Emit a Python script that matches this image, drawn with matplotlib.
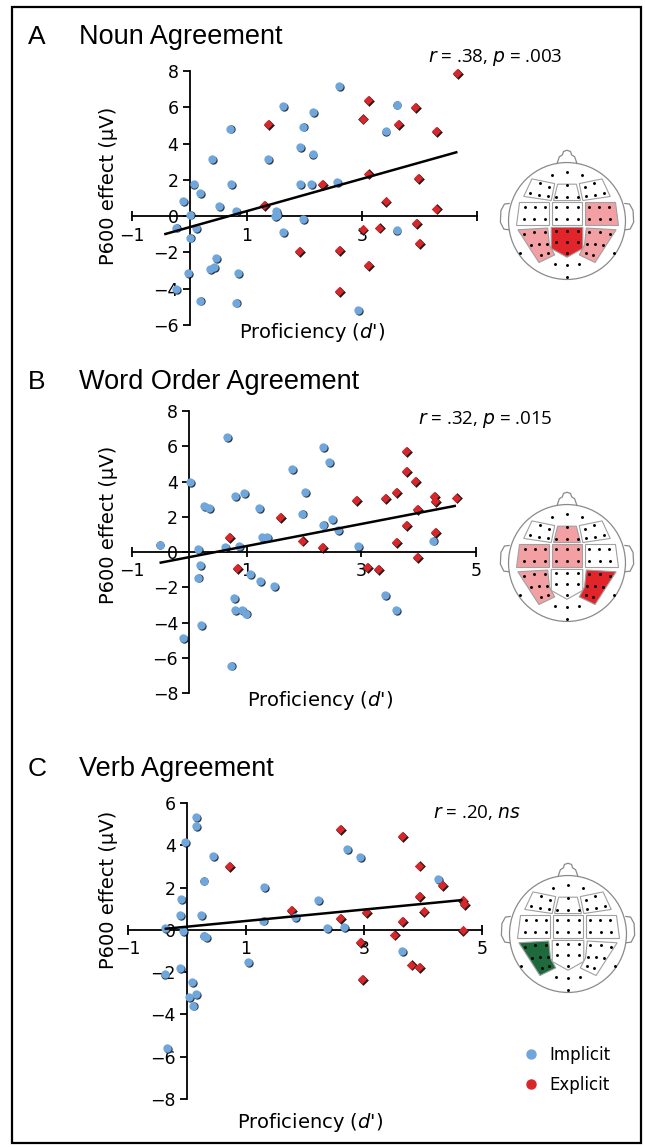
import matplotlib
matplotlib.use("Agg")
import matplotlib.pyplot as plt
import matplotlib.transforms as mtransforms
from matplotlib.patches import Polygon, Circle, Rectangle
from matplotlib.lines import Line2D
import numpy as np

plt.rcParams['font.family'] = ['DejaVu Sans']
plt.rcParams['mathtext.fontset'] = 'dejavusans'

# ---- data ----
# A: noun agreement
noun_imp_x = [-0.12, -0.24, 0.07, 0.18, 0.01, 0.11, 0.01, -0.03, -0.24, 0.19, 0.39, 0.52, 0.46, 0.36, 0.42,
              0.71, 0.73, 0.81, 0.85, 0.81, 1.36, 1.62, 1.50, 1.53, 1.48, 1.62, 1.92, 1.98, 2.15, 2.14,
              1.92, 2.12, 1.97, 2.60, 2.57, 2.93, 3.41, 3.60, 3.60]
noun_imp_y = [0.81, -0.63, 1.76, 1.27, 0.09, -0.67, -1.18, -3.13, -4.04, -4.65, 3.13, 0.54, -2.32, -2.90, -2.81,
              4.83, 1.79, 0.27, -3.13, -4.76, 3.13, 6.06, 0.27, 0.09, 0.0, -0.90, 3.80, 4.94, 5.74, 3.44,
              1.79, 1.79, -0.18, 7.19, 1.86, -5.20, 4.71, 6.15, -0.78]
noun_exp_x = [1.36, 1.30, 1.90, 2.31, 2.60, 2.60, 3.01, 3.11, 3.10, 3.01, 3.10, 3.30, 3.41, 3.62, 3.92,
              3.97, 3.94, 3.99, 4.28, 4.28, 4.66]
noun_exp_y = [5.07, 0.63, -1.94, 1.79, -1.86, -4.11, 5.38, 6.39, 2.35, -0.72, -2.71, -0.63, 0.85, 5.07, 6.03,
              2.12, -0.36, -1.50, 4.71, 0.42, 7.91]

# B: word order agreement
order_imp_x = [-0.52, -0.11, 0.02, 0.15, 0.19, 0.15, 0.26, 0.34, 0.20, 0.65, 0.63, 0.80, 0.95, 0.86, 0.78,
               0.79, 0.92, 0.99, 0.72, 1.06, 1.24, 1.47, 1.21, 1.27, 1.35, 1.79, 1.97, 2.02, 2.33, 2.43,
               2.33, 2.49, 2.60, 2.94, 3.42, 3.60, 4.25]
order_imp_y = [0.42, -4.89, 3.99, 0.15, -0.73, -1.45, 2.60, 2.51, -4.13, 6.51, 0.29, 3.20, 3.33, 0.33, -2.62,
               -3.27, -3.27, -3.49, -6.44, -1.25, -1.67, -1.95, 2.51, 0.87, 0.84, 4.69, 2.18, 3.38, 5.96, 5.09,
               1.56, 1.87, 1.27, 0.33, -2.44, -3.31, 0.65]
order_exp_x = [0.70, 0.84, 1.59, 1.97, 2.31, 2.91, 3.10, 3.29, 3.42, 3.60, 3.60, 3.78, 3.78, 3.94, 3.78,
               3.97, 3.97, 4.27, 4.29, 4.29, 4.65]
order_exp_y = [0.87, -0.91, 1.96, 0.65, 0.29, 2.93, -0.85, -0.95, 3.05, 3.38, 0.55, 5.75, 4.60, 4.05, 1.51,
               2.42, -0.31, 3.15, 2.87, 1.15, 3.09]

# C: verb agreement
verb_imp_x = [-0.04, 0.15, 0.16, -0.10, -0.12, -0.06, -0.37, -0.12, -0.38, 0.09, 0.16, 0.03, 0.10, -0.34,
              0.44, 0.28, 0.24, 0.28, 0.33, 1.04, 1.31, 1.29, 1.83, 2.22, 2.37, 2.66, 2.72, 2.93, 3.64, 4.26]
verb_imp_y = [4.15, 5.33, 4.89, 1.47, 0.71, -0.06, 0.09, -1.80, -2.11, -2.48, -3.03, -3.19, -3.58, -5.58,
              3.47, 2.33, 0.68, -0.27, -0.35, -1.53, 2.02, 0.44, 0.60, 1.42, 0.09, 0.13, 3.83, 3.44, -1.01, 2.41]
verb_exp_x = [0.71, 1.76, 2.59, 2.60, 2.94, 2.96, 3.03, 3.51, 3.64, 3.64, 3.79, 3.94, 3.94, 3.94, 4.01,
              4.32, 4.67, 4.69, 4.67]
verb_exp_y = [3.00, 0.95, 4.78, 0.55, -0.58, -2.32, 0.84, -0.22, 4.42, 0.41, -1.64, -1.74, 3.04, 1.62, 0.91,
              2.10, 1.39, 1.20, 0.00]

# regression lines (slope, intercept, x start, x end)
fits = [(0.89, -0.61, -0.44, 4.66), (0.627, -0.29, -0.52, 4.65), (0.27, 0.15, -0.38, 4.67)]

titles = ["Noun Agreement", "Word Order Agreement", "Verb Agreement"]
letters = ["A", "B", "C"]
stats = [r"$r$ = .38, $p$ = .003", r"$r$ = .32, $p$ = .015", r"$r$ = .20, $ns$"]
yticks = [[8, 6, 4, 2, 0, -2, -4, -6], [8, 6, 4, 2, 0, -2, -4, -6, -8], [6, 4, 2, 0, -2, -4, -6, -8]]
xtick_vals = [-1, 1, 3, 5]

# region shading for the head maps
pink = "#f2a0a4"
red = "#e1252a"
green = "#1f6a3c"
head_colors = [
    {"MR": pink, "BL": pink, "BC": red, "BR": pink},
    {"FC": pink, "ML": pink, "MC": pink, "BL": pink, "BR": red},
    {"BL": green},
]

blue_c = "#6fa6dc"
red_c = "#d8262b"

W, H = 645, 1147
fig = plt.figure(figsize=(W / 100, H / 100), dpi=100)


def fx(px):
    return px / W


def fy(py):
    return 1 - py / H


# axes boxes in pixels: left, top, right, bottom
boxes = [(132, 71, 477, 325), (132, 411, 476, 693), (128, 803, 482, 1099)]
data = [(noun_imp_x, noun_imp_y, noun_exp_x, noun_exp_y),
        (order_imp_x, order_imp_y, order_exp_x, order_exp_y),
        (verb_imp_x, verb_imp_y, verb_exp_x, verb_exp_y)]
title_y = [37, 382, 769]
ylab_pos = [(108, 186), (108, 525), (108, 890)]
xlab_pos = [(312, 333), (320, 700), (310, 1123)]
stat_pos = [(428, 57), (418, 420), (433, 812)]
head_pos = [(567, 221), (567, 563), (568, 934)]

axes = []
for i in range(3):
    l, t, r, b = boxes[i]
    ax = fig.add_axes([fx(l), fy(b), fx(r) - fx(l), (b - t) / H])
    axes.append(ax)
    ix, iy, ex, ey = data[i]
    ax.set_xlim(-1, 5)
    ax.set_ylim(yticks[i][-1], yticks[i][0])
    ax.spines['left'].set_position(('data', 0))
    ax.spines['bottom'].set_position(('data', 0))
    ax.spines['right'].set_visible(False)
    ax.spines['top'].set_visible(False)
    for s in ['left', 'bottom']:
        ax.spines[s].set_linewidth(1.3)
    ax.set_yticks(yticks[i])
    ax.set_yticklabels([str(v).replace('-', '\u2212') for v in yticks[i]])
    ax.set_xticks(xtick_vals)
    xl = ['\u22121', '1', '3', '5']
    if i == 0:
        xl[-1] = ''
    ax.set_xticklabels(xl)
    ax.tick_params(axis='y', direction='out', length=5, width=1.3, labelsize=12.5, pad=3)
    ax.tick_params(axis='x', direction='inout', length=7, width=1.3, labelsize=12.5, pad=4)
    ax.patch.set_alpha(0)

    shadow = mtransforms.offset_copy(ax.transData, fig=fig, x=0.9, y=-0.9, units='dots')
    ax.scatter(ix, iy, s=36, marker='o', color='#2a3440', lw=0, transform=shadow, zorder=2, clip_on=False)
    ax.scatter(ix, iy, s=36, marker='o', color=blue_c, lw=0, zorder=3, clip_on=False)
    ax.scatter(ex, ey, s=30, marker='D', color='#2a1515', lw=0, transform=shadow, zorder=2, clip_on=False)
    ax.scatter(ex, ey, s=22, marker='D', color=red_c, lw=0, zorder=3, clip_on=False)

    k, c, x0, x1 = fits[i]
    lx = np.array([x0, x1])
    ax.plot(lx, k * lx + c, color='black', lw=1.8, zorder=4, solid_capstyle='butt')

    fig.text(fx(28), fy(title_y[i]), letters[i], fontsize=19, family='Liberation Sans', va='center', ha='left')
    fig.text(fx(79), fy(title_y[i]), titles[i], fontsize=19.5, family='Liberation Sans', va='center', ha='left')
    fig.text(fx(ylab_pos[i][0]), fy(ylab_pos[i][1]), "P600 effect (\u00b5V)", rotation=90,
             fontsize=14, ha='center', va='center')
    fig.text(fx(xlab_pos[i][0]), fy(xlab_pos[i][1]), "Proficiency ($d$')", fontsize=14,
             ha='center', va='center')
    fig.text(fx(stat_pos[i][0]), fy(stat_pos[i][1]), stats[i], fontsize=13.5, family='Open Sans',
             ha='left', va='center')

# ---- head maps ----
regions = {
    "FL": [(-0.60, 0.72), (-0.21, 0.64), (-0.27, 0.35), (-0.74, 0.42)],
    "FC": [(-0.16, 0.63), (0.16, 0.63), (0.23, 0.35), (-0.23, 0.35)],
    "ML": [(-0.82, 0.33), (-0.31, 0.33), (-0.31, -0.06), (-0.88, -0.06)],
    "MC": [(-0.26, 0.33), (0.26, 0.33), (0.26, -0.06), (-0.26, -0.06)],
    "BL": [(-0.84, -0.15), (-0.33, -0.12), (-0.30, -0.41), (-0.21, -0.58), (-0.48, -0.71)],
    "BC": [(-0.27, -0.11), (0.27, -0.11), (0.27, -0.47), (0.0, -0.62), (-0.27, -0.47)],
}
for key in ["FL", "ML", "BL"]:
    regions[key.replace("L", "R")] = [(-u, v) for u, v in regions[key]][::-1]

half_dots = [(-0.26, 0.79), (-0.47, 0.65), (-0.30, 0.59), (-0.64, 0.48), (-0.48, 0.45), (-0.33, 0.42),
             (-0.18, 0.41), (-0.72, 0.24), (-0.55, 0.24), (-0.38, 0.24), (-0.74, 0.04), (-0.56, 0.04),
             (-0.38, 0.04), (-0.18, 0.24), (-0.18, 0.04), (-0.74, -0.22), (-0.57, -0.19), (-0.38, -0.18),
             (-0.62, -0.41), (-0.48, -0.40), (-0.35, -0.40), (-0.45, -0.59), (-0.33, -0.55),
             (-0.18, -0.17), (-0.18, -0.36), (-0.80, -0.55), (-0.21, -0.74)]
mid_dots = [(0, 0.83), (0, 0.61), (0, 0.41), (0, 0.24), (0, 0.04), (0, -0.17), (0, -0.36), (0, -0.55),
            (0, -0.76), (0, -0.95)]
dots = half_dots + [(-u, v) for u, v in half_dots] + mid_dots

nose = [(-0.17, 0.985), (-0.13, 1.10), (-0.08, 1.13), (-0.06, 1.19), (0, 1.21), (0.06, 1.19), (0.08, 1.13),
        (0.13, 1.10), (0.17, 0.985)]
ear = [(-0.99, 0.30), (-1.07, 0.29), (-1.13, 0.18), (-1.14, -0.02), (-1.08, -0.14), (-0.99, -0.15)]

hs = 152
for i in range(3):
    cx, cy = head_pos[i]
    hax = fig.add_axes([fx(cx - hs / 2), fy(cy + hs / 2), hs / W, hs / H])
    hax.set_xlim(-1.3, 1.3)
    hax.set_ylim(-1.3, 1.3)
    hax.set_aspect('equal')
    hax.axis('off')
    hax.add_patch(Circle((0, 0), 1.0, fc='white', ec='#8a8a8a', lw=0.9))
    hax.plot([p[0] for p in nose], [p[1] for p in nose], color='#8a8a8a', lw=0.9)
    hax.plot([p[0] for p in ear], [p[1] for p in ear], color='#8a8a8a', lw=0.9)
    hax.plot([-p[0] for p in ear], [p[1] for p in ear], color='#8a8a8a', lw=0.9)
    for name, poly in regions.items():
        fc = head_colors[i].get(name, 'white')
        hax.add_patch(Polygon(poly, closed=True, fc=fc, ec='#a0a0a0', lw=0.8))
    hax.scatter([d[0] for d in dots], [d[1] for d in dots], s=4.5, color='black', lw=0, zorder=5)

# legend
handles = [Line2D([], [], ls='none', marker='o', ms=6.5, color=blue_c, label='Implicit'),
           Line2D([], [], ls='none', marker='o', ms=6.5, color=red_c, label='Explicit')]
fig.legend(handles=handles, loc='center left', bbox_to_anchor=(fx(508), fy(1070)), frameon=False,
           fontsize=12, handletextpad=0.6, labelspacing=0.75, handlelength=1.0)

# outer frame
fig.add_artist(Rectangle((fx(12), fy(1143)), fx(641) - fx(12), (1143 - 7) / H, transform=fig.transFigure,
                         fill=False, ec='black', lw=1.6))

fig.savefig("out.png", dpi=100)
